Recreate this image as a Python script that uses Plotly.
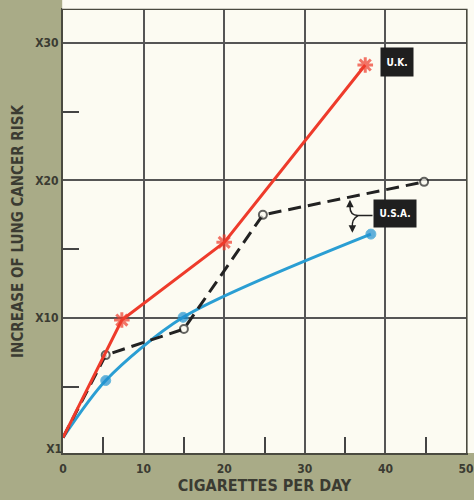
import plotly.graph_objects as go

# Data
uk_x = [0, 7.3, 20, 37.5]
uk_y = [1.3, 9.85, 15.5, 28.4]

usa_dash_x = [0, 5.3, 15, 24.8, 44.8]
usa_dash_y = [1.3, 7.3, 9.2, 17.5, 19.9]

usa_blue_x = [0, 5.3, 14.9, 38.2]
usa_blue_y = [1.3, 5.45, 10.05, 16.1]

x_ticks = [0, 10, 20, 30, 40, 50]
y_ticks = [10, 20, 30]
y_tick_text = ["X10", "X20", "X30"]

OLIVE = "#a9ab87"
CREAM = "#fcfbf2"
INK = "#3b3b32"
FONT = "Liberation Sans Narrow, DejaVu Sans Condensed, Liberation Sans, Arial, sans-serif"

fig = go.Figure()

fig.add_trace(go.Scatter(
    x=usa_blue_x, y=usa_blue_y, mode="lines+markers",
    line=dict(color="#2a9ed3", width=3, shape="spline", smoothing=0.8),
    marker=dict(size=[0, 10, 10, 10], color="#1f8fd0"),
    showlegend=False, hoverinfo="skip"))

fig.add_trace(go.Scatter(
    x=usa_dash_x, y=usa_dash_y, mode="lines+markers",
    line=dict(color="#222222", width=3, dash="13px,7px"),
    marker=dict(size=[0, 8, 8, 8, 8], color=CREAM, symbol="circle",
                line=dict(color="#222222", width=2)),
    showlegend=False, hoverinfo="skip"))

fig.add_trace(go.Scatter(
    x=uk_x, y=uk_y, mode="lines+markers",
    line=dict(color="#ee3b2b", width=3),
    marker=dict(size=[0, 13, 13, 13], symbol="asterisk-open", color="#ee3b2b",
                line=dict(color="#ee3b2b", width=3)),
    showlegend=False, hoverinfo="skip"))

# X1 label axis
fig.add_trace(go.Scatter(x=[None], y=[None], yaxis="y2", showlegend=False))

axis_font = dict(family=FONT, size=12, color=INK, weight="bold")

fig.update_layout(
    width=474, height=500,
    margin=dict(l=63, r=8, t=10, b=47),
    paper_bgcolor=OLIVE, plot_bgcolor=CREAM,
    xaxis=dict(
        range=[0, 50], tickvals=x_ticks, ticktext=[str(v) for v in x_ticks],
        showgrid=True, gridcolor="#555555", gridwidth=1.5,
        showline=True, linecolor="#4a4a40", linewidth=2, mirror=True,
        ticks="", tickfont=axis_font, ticklabelstandoff=4,
        ticklabeloverflow="allow",
        zeroline=False, automargin=False,
        minor=dict(tickvals=[5, 15, 25, 35, 45], ticks="inside", ticklen=16,
                   tickwidth=2, tickcolor="#444444", showgrid=False),
        title=dict(text="CIGARETTES PER DAY", standoff=4,
                   font=dict(family=FONT, size=16, color=INK, weight="bold")),
    ),
    yaxis=dict(
        range=[0.18, 32.4], tickvals=y_ticks, ticktext=y_tick_text,
        showgrid=True, gridcolor="#555555", gridwidth=1.5,
        showline=True, linecolor="#4a4a40", linewidth=2, mirror=True,
        ticks="", tickfont=axis_font, zeroline=False, automargin=False,
        minor=dict(tickvals=[5, 15, 25], ticks="inside", ticklen=16,
                   tickwidth=2, tickcolor="#444444", showgrid=False),
        title=dict(text="INCREASE OF LUNG CANCER RISK", standoff=8,
                   font=dict(family=FONT, size=15, color=INK, weight="bold")),
    ),
    yaxis2=dict(
        range=[0.18, 32.4], overlaying="y", side="left", tickvals=[0.47],
        ticktext=["X1"], showgrid=False, showline=False, ticks="",
        tickfont=axis_font, zeroline=False, automargin=False,
    ),
    shapes=[
        dict(type="rect", xref="paper", yref="paper", x0=-0.002, x1=1.03,
             y0=1.003, y1=1.04, fillcolor=CREAM, line=dict(width=0),
             layer="above"),
        dict(type="rect", xref="paper", yref="paper", x0=1.004, x1=1.03,
             y0=0.0, y1=1.04, fillcolor=CREAM, line=dict(width=0),
             layer="above"),
        # bracket from U.S.A. label
        dict(type="path", xref="x", yref="y",
             path="M 38.4 17.45 L 36.6 17.45 Q 35.6 17.45 35.6 18.1",
             line=dict(color="#222222", width=1.5)),
        dict(type="path", xref="x", yref="y",
             path="M 36.6 17.45 Q 35.8 17.2 35.9 16.6",
             line=dict(color="#222222", width=1.5)),
    ],
    annotations=[
        dict(x=41.4, y=28.6, xref="x", yref="y", text="<b>U.K.</b>",
             showarrow=False, bgcolor="#1f1f1f", width=30, height=26,
             font=dict(family=FONT, size=10, color="white")),
        dict(x=41.2, y=17.6, xref="x", yref="y", text="<b>U.S.A.</b>",
             showarrow=False, bgcolor="#1f1f1f", width=40, height=25,
             font=dict(family=FONT, size=10, color="white")),
        dict(x=35.6, y=18.6, ax=35.6, ay=18.0, xref="x", yref="y",
             axref="x", ayref="y", text="", showarrow=True, arrowhead=2,
             arrowsize=1, arrowwidth=1.5, arrowcolor="#222222"),
        dict(x=35.9, y=16.2, ax=35.9, ay=16.7, xref="x", yref="y",
             axref="x", ayref="y", text="", showarrow=True, arrowhead=2,
             arrowsize=1, arrowwidth=1.5, arrowcolor="#222222"),
    ],
)

fig.write_html(
    "out.html",
    config={"displayModeBar": False},
    post_script="document.body.style.margin='0';"
                "document.body.style.background='#a9ab87';",
)
